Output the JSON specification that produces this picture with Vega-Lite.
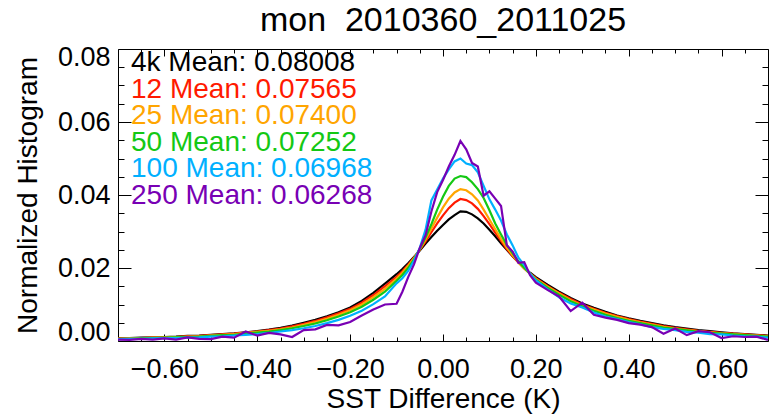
{
  "$schema": "https://vega.github.io/schema/vega-lite/v6.json",
  "width": 650,
  "height": 292,
  "autosize": {"type": "none"},
  "padding": {"left": 118, "top": 49, "right": 1, "bottom": 74},
  "background": "white",
  "view": {"stroke": null},
  "title": {
    "text": "mon \u00a02010360_2011025",
    "font": "Liberation Sans",
    "fontSize": 34,
    "fontWeight": "normal",
    "color": "black",
    "anchor": "middle",
    "frame": "group",
    "offset": 5
  },
  "datasets": {
    "hist": [
      {"x": -0.7, "4k": 0.0007, "12": 0.0007, "25": 0.0006, "50": 0.0006, "100": 0.0005, "250": 0.0004},
      {"x": -0.675, "4k": 0.0008, "12": 0.0007, "25": 0.0007, "50": 0.0006, "100": 0.0006, "250": 0.0003},
      {"x": -0.65, "4k": 0.0009, "12": 0.0008, "25": 0.0008, "50": 0.0007, "100": 0.0006, "250": 0.0006},
      {"x": -0.625, "4k": 0.001, "12": 0.0009, "25": 0.0009, "50": 0.0008, "100": 0.0007, "250": 0.0004},
      {"x": -0.6, "4k": 0.0011, "12": 0.001, "25": 0.001, "50": 0.0009, "100": 0.0008, "250": 0.0007},
      {"x": -0.575, "4k": 0.0012, "12": 0.0011, "25": 0.0011, "50": 0.001, "100": 0.0008, "250": 0.0004},
      {"x": -0.55, "4k": 0.0014, "12": 0.0013, "25": 0.0012, "50": 0.0011, "100": 0.0009, "250": 0.001},
      {"x": -0.525, "4k": 0.0015, "12": 0.0014, "25": 0.0013, "50": 0.0012, "100": 0.001, "250": 0.0006},
      {"x": -0.5, "4k": 0.0017, "12": 0.0016, "25": 0.0015, "50": 0.0014, "100": 0.0012, "250": 0.0005},
      {"x": -0.475, "4k": 0.0019, "12": 0.0018, "25": 0.0017, "50": 0.0016, "100": 0.0013, "250": 0.0012},
      {"x": -0.45, "4k": 0.0021, "12": 0.002, "25": 0.0019, "50": 0.0017, "100": 0.0015, "250": 0.0009},
      {"x": -0.425, "4k": 0.0024, "12": 0.0023, "25": 0.0022, "50": 0.002, "100": 0.0017, "250": 0.0026},
      {"x": -0.4, "4k": 0.0027, "12": 0.0026, "25": 0.0025, "50": 0.0023, "100": 0.0019, "250": 0.0015},
      {"x": -0.375, "4k": 0.0031, "12": 0.003, "25": 0.0028, "50": 0.0026, "100": 0.0022, "250": 0.0022},
      {"x": -0.35, "4k": 0.0036, "12": 0.0034, "25": 0.0032, "50": 0.003, "100": 0.0026, "250": 0.0018},
      {"x": -0.325, "4k": 0.0042, "12": 0.004, "25": 0.0037, "50": 0.0035, "100": 0.003, "250": 0.0011},
      {"x": -0.3, "4k": 0.005, "12": 0.0047, "25": 0.0044, "50": 0.0041, "100": 0.0035, "250": 0.003},
      {"x": -0.275, "4k": 0.0058, "12": 0.0055, "25": 0.0052, "50": 0.0048, "100": 0.0041, "250": 0.0032},
      {"x": -0.25, "4k": 0.0068, "12": 0.0065, "25": 0.0061, "50": 0.0057, "100": 0.0049, "250": 0.0044},
      {"x": -0.225, "4k": 0.0079, "12": 0.0076, "25": 0.0072, "50": 0.0067, "100": 0.0058, "250": 0.0043},
      {"x": -0.2, "4k": 0.0092, "12": 0.0088, "25": 0.0084, "50": 0.0079, "100": 0.0069, "250": 0.0052},
      {"x": -0.175, "4k": 0.011, "12": 0.0105, "25": 0.01, "50": 0.0094, "100": 0.0083, "250": 0.007},
      {"x": -0.15, "4k": 0.0132, "12": 0.0126, "25": 0.012, "50": 0.0113, "100": 0.0101, "250": 0.0086},
      {"x": -0.125, "4k": 0.0157, "12": 0.015, "25": 0.0143, "50": 0.0135, "100": 0.0122, "250": 0.01},
      {"x": -0.1, "4k": 0.0183, "12": 0.0176, "25": 0.0171, "50": 0.0165, "100": 0.0158, "250": 0.0102},
      {"x": -0.0875, "4k": 0.0197, "12": 0.0191, "25": 0.0187, "50": 0.0181, "100": 0.0172, "250": 0.0135},
      {"x": -0.075, "4k": 0.0213, "12": 0.0209, "25": 0.0206, "50": 0.02, "100": 0.0192, "250": 0.0175},
      {"x": -0.0625, "4k": 0.023, "12": 0.0228, "25": 0.0227, "50": 0.0224, "100": 0.022, "250": 0.021},
      {"x": -0.05, "4k": 0.0248, "12": 0.025, "25": 0.0251, "50": 0.0252, "100": 0.0255, "250": 0.0255},
      {"x": -0.0375, "4k": 0.0267, "12": 0.0273, "25": 0.0278, "50": 0.0284, "100": 0.0305, "250": 0.029},
      {"x": -0.025, "4k": 0.0285, "12": 0.0298, "25": 0.0308, "50": 0.032, "100": 0.0385, "250": 0.0355},
      {"x": -0.0125, "4k": 0.0302, "12": 0.0322, "25": 0.0338, "50": 0.036, "100": 0.0415, "250": 0.0408},
      {"x": 0, "4k": 0.0318, "12": 0.0344, "25": 0.0366, "50": 0.0395, "100": 0.0445, "250": 0.0441},
      {"x": 0.0125, "4k": 0.0333, "12": 0.0364, "25": 0.039, "50": 0.0425, "100": 0.047, "250": 0.0478},
      {"x": 0.025, "4k": 0.0345, "12": 0.0379, "25": 0.0407, "50": 0.0445, "100": 0.0492, "250": 0.051},
      {"x": 0.0375, "4k": 0.0355, "12": 0.0389, "25": 0.0416, "50": 0.0452, "100": 0.05, "250": 0.0548},
      {"x": 0.05, "4k": 0.0354, "12": 0.0386, "25": 0.0413, "50": 0.0449, "100": 0.0486, "250": 0.0525},
      {"x": 0.0625, "4k": 0.0347, "12": 0.0377, "25": 0.0402, "50": 0.0435, "100": 0.0482, "250": 0.0488},
      {"x": 0.075, "4k": 0.0336, "12": 0.0362, "25": 0.0385, "50": 0.0416, "100": 0.0462, "250": 0.0478},
      {"x": 0.0875, "4k": 0.0322, "12": 0.0342, "25": 0.036, "50": 0.0392, "100": 0.0425, "250": 0.0398},
      {"x": 0.1, "4k": 0.0305, "12": 0.032, "25": 0.0333, "50": 0.0358, "100": 0.0388, "250": 0.041},
      {"x": 0.1125, "4k": 0.0287, "12": 0.0297, "25": 0.0306, "50": 0.0322, "100": 0.036, "250": 0.039},
      {"x": 0.125, "4k": 0.0268, "12": 0.0274, "25": 0.028, "50": 0.0292, "100": 0.033, "250": 0.037},
      {"x": 0.1375, "4k": 0.025, "12": 0.0252, "25": 0.0256, "50": 0.0263, "100": 0.0292, "250": 0.0262},
      {"x": 0.15, "4k": 0.0232, "12": 0.0233, "25": 0.0235, "50": 0.024, "100": 0.0262, "250": 0.0245},
      {"x": 0.1625, "4k": 0.0216, "12": 0.0215, "25": 0.0216, "50": 0.0218, "100": 0.0228, "250": 0.0214},
      {"x": 0.175, "4k": 0.02, "12": 0.0199, "25": 0.0199, "50": 0.0201, "100": 0.0208, "250": 0.0216},
      {"x": 0.1875, "4k": 0.0187, "12": 0.0185, "25": 0.0184, "50": 0.0184, "100": 0.0184, "250": 0.018},
      {"x": 0.2, "4k": 0.0175, "12": 0.0172, "25": 0.017, "50": 0.0168, "100": 0.0166, "250": 0.016},
      {"x": 0.225, "4k": 0.0154, "12": 0.0151, "25": 0.0149, "50": 0.0146, "100": 0.0142, "250": 0.014},
      {"x": 0.25, "4k": 0.0135, "12": 0.0132, "25": 0.013, "50": 0.0127, "100": 0.012, "250": 0.0122},
      {"x": 0.275, "4k": 0.0118, "12": 0.0115, "25": 0.0112, "50": 0.0109, "100": 0.0103, "250": 0.0082},
      {"x": 0.3, "4k": 0.0103, "12": 0.01, "25": 0.0097, "50": 0.0095, "100": 0.0092, "250": 0.0105},
      {"x": 0.325, "4k": 0.0091, "12": 0.0088, "25": 0.0086, "50": 0.0083, "100": 0.0078, "250": 0.0072},
      {"x": 0.35, "4k": 0.008, "12": 0.0077, "25": 0.0075, "50": 0.0072, "100": 0.0067, "250": 0.0064},
      {"x": 0.375, "4k": 0.007, "12": 0.0068, "25": 0.0066, "50": 0.0063, "100": 0.006, "250": 0.0058},
      {"x": 0.4, "4k": 0.0062, "12": 0.006, "25": 0.0058, "50": 0.0055, "100": 0.0052, "250": 0.0049},
      {"x": 0.425, "4k": 0.0055, "12": 0.0053, "25": 0.0051, "50": 0.0049, "100": 0.0046, "250": 0.0045},
      {"x": 0.45, "4k": 0.0049, "12": 0.0047, "25": 0.0045, "50": 0.0043, "100": 0.0038, "250": 0.0038},
      {"x": 0.475, "4k": 0.0043, "12": 0.0041, "25": 0.0039, "50": 0.0037, "100": 0.0033, "250": 0.002},
      {"x": 0.5, "4k": 0.0038, "12": 0.0036, "25": 0.0034, "50": 0.0033, "100": 0.003, "250": 0.0034},
      {"x": 0.525, "4k": 0.0034, "12": 0.0032, "25": 0.003, "50": 0.0029, "100": 0.0025, "250": 0.0016},
      {"x": 0.55, "4k": 0.003, "12": 0.0028, "25": 0.0027, "50": 0.0025, "100": 0.0023, "250": 0.0027},
      {"x": 0.575, "4k": 0.0027, "12": 0.0025, "25": 0.0024, "50": 0.0022, "100": 0.0019, "250": 0.0024},
      {"x": 0.6, "4k": 0.0024, "12": 0.0022, "25": 0.0021, "50": 0.002, "100": 0.0018, "250": 0.0008},
      {"x": 0.625, "4k": 0.0021, "12": 0.002, "25": 0.0019, "50": 0.0018, "100": 0.0015, "250": 0.0013},
      {"x": 0.65, "4k": 0.0019, "12": 0.0018, "25": 0.0017, "50": 0.0016, "100": 0.0013, "250": 0.0011},
      {"x": 0.675, "4k": 0.0017, "12": 0.0016, "25": 0.0015, "50": 0.0014, "100": 0.0012, "250": 0.0012},
      {"x": 0.7, "4k": 0.0015, "12": 0.0014, "25": 0.0013, "50": 0.0012, "100": 0.0009, "250": 0.0003}
    ],
    "means": [
      {"s": "4k", "label": "4k Mean: 0.08008"},
      {"s": "12", "label": "12 Mean: 0.07565"},
      {"s": "25", "label": "25 Mean: 0.07400"},
      {"s": "50", "label": "50 Mean: 0.07252"},
      {"s": "100", "label": "100 Mean: 0.06968"},
      {"s": "250", "label": "250 Mean: 0.06268"}
    ]
  },
  "resolve": {"scale": {"y": "independent"}, "axis": {"x": "independent", "y": "independent"}},
  "layer": [
    {
      "data": {"name": "hist"},
      "transform": [{"fold": ["4k", "12", "25", "50", "100", "250"], "as": ["s", "v"]}],
      "mark": {"type": "line", "strokeWidth": 2.2, "clip": true},
      "encoding": {
        "x": {
          "field": "x", "type": "quantitative",
          "scale": {"domain": [-0.7, 0.7], "nice": false, "zero": false},
          "axis": {
            "orient": "bottom",
            "values": [-0.65, -0.6, -0.55, -0.5, -0.45, -0.4, -0.35, -0.3, -0.25, -0.2, -0.15, -0.1, -0.05, 0, 0.05, 0.1, 0.15, 0.2, 0.25, 0.3, 0.35, 0.4, 0.45, 0.5, 0.55, 0.6, 0.65],
            "labelExpr": "abs(round(datum.value*20)) % 4 == 0 ? format(datum.value, '.2f') : ''",
            "tickSize": {"condition": {"test": "abs(round(datum.value*20)) % 4 == 0", "value": -7}, "value": -4},
            "tickColor": "black", "tickWidth": 1,
            "domainColor": "black", "domainWidth": 1,
            "labelFont": "Liberation Sans", "labelFontSize": 27, "labelColor": "black",
            "labelPadding": 22, "labelOverlap": false, "labelBound": false, "labelFlush": false,
            "grid": false,
            "title": "SST Difference (K)",
            "titleFont": "Liberation Sans", "titleFontSize": 28, "titleFontWeight": "normal", "titleColor": "black",
            "titlePadding": 0
          }
        },
        "y": {
          "field": "v", "type": "quantitative",
          "scale": {"domain": [0, 0.08], "nice": false, "zero": false},
          "axis": {
            "orient": "left",
            "values": [0, 0.005, 0.01, 0.015, 0.02, 0.025, 0.03, 0.035, 0.04, 0.045, 0.05, 0.055, 0.06, 0.065, 0.07, 0.075, 0.08],
            "labelExpr": "round(datum.value*1000) % 20 == 0 ? format(datum.value, '.2f') : ''",
            "tickSize": {"condition": {"test": "round(datum.value*1000) % 20 == 0", "value": -13}, "value": -6},
            "tickColor": "black", "tickWidth": 1,
            "domainColor": "black", "domainWidth": 1,
            "labelFont": "Liberation Sans", "labelFontSize": 27, "labelColor": "black",
            "labelPadding": 21, "labelOverlap": false, "labelBound": false, "labelFlush": true, "labelFlushOffset": 5,
            "grid": false,
            "title": "Normalized Histogram",
            "titleFont": "Liberation Sans", "titleFontSize": 28, "titleFontWeight": "normal", "titleColor": "black",
            "titlePadding": 15
          }
        },
        "color": {
          "field": "s", "type": "nominal",
          "scale": {"domain": ["4k", "12", "25", "50", "100", "250"], "range": ["#000000", "#ff1a00", "#ffa500", "#14c814", "#00b0ff", "#7800b4"]},
          "legend": null
        },
        "order": {"field": "x", "type": "quantitative"}
      }
    },
    {
      "mark": {"type": "rule", "color": "black", "strokeWidth": 1.2, "strokeDash": [16, 9]},
      "encoding": {
        "x": {
          "datum": 0, "type": "quantitative",
          "axis": {
            "orient": "top",
            "values": [-0.65, -0.6, -0.55, -0.5, -0.45, -0.4, -0.35, -0.3, -0.25, -0.2, -0.15, -0.1, -0.05, 0, 0.05, 0.1, 0.15, 0.2, 0.25, 0.3, 0.35, 0.4, 0.45, 0.5, 0.55, 0.6, 0.65],
            "labels": false,
            "tickSize": {"condition": {"test": "abs(round(datum.value*20)) % 4 == 0", "value": -7}, "value": -4},
            "tickColor": "black", "domainColor": "black", "grid": false, "title": null
          }
        }
      }
    },
    {
      "mark": {"type": "rule", "color": "black", "strokeWidth": 1},
      "encoding": {
        "y": {
          "datum": 0, "type": "quantitative",
          "scale": {"domain": [0, 0.08], "nice": false, "zero": false},
          "axis": {
            "orient": "right",
            "values": [0, 0.005, 0.01, 0.015, 0.02, 0.025, 0.03, 0.035, 0.04, 0.045, 0.05, 0.055, 0.06, 0.065, 0.07, 0.075, 0.08],
            "labels": false,
            "tickSize": {"condition": {"test": "round(datum.value*1000) % 20 == 0", "value": -13}, "value": -6},
            "tickColor": "black", "domainColor": "black", "grid": false, "title": null
          }
        }
      }
    },
    {
      "data": {"name": "means"},
      "mark": {"type": "text", "align": "left", "baseline": "middle", "font": "Liberation Sans", "fontSize": 28},
      "encoding": {
        "x": {"datum": -0.672, "type": "quantitative", "axis": null},
        "y": {
          "field": "s", "type": "ordinal",
          "scale": {"type": "point", "domain": ["4k", "12", "25", "50", "100", "250"], "range": [14, 147], "padding": 0},
          "axis": null
        },
        "text": {"field": "label"},
        "color": {"field": "s", "type": "nominal", "legend": null}
      }
    }
  ]
}
